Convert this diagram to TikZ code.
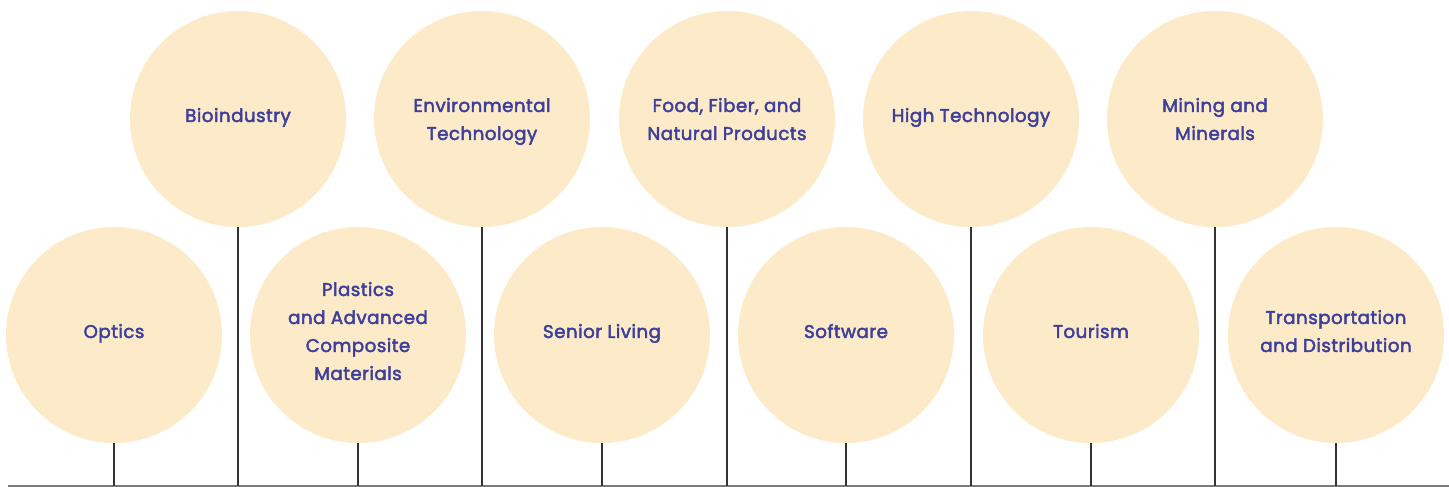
\documentclass[tikz,border=0pt]{standalone}
\usepackage{fontspec}
\setmainfont{Poppins}
\newfontfamily\bubblefont{Poppins}[FakeBold=2.4, LetterSpace=2.5]
\usepackage{tikz}

\definecolor{peach}{HTML}{FDEAC8}
\definecolor{indigo}{HTML}{3C3F9C}
\definecolor{stem}{HTML}{333333}
\definecolor{ground}{HTML}{7A7A7A}

\begin{document}
\begin{tikzpicture}[x=1pt,y=-1pt,
    bubble/.style={circle, fill=peach, minimum size=216pt, inner sep=0pt,
        align=center, text=indigo, text depth=8pt,
        font=\bubblefont\fontsize{18.3}{28}\selectfont},
    stemline/.style={stem, line width=1.2pt},
    groundline/.style={ground, line width=1.5pt}]
    \useasboundingbox (0,0) rectangle (1449,487);

    % ground line
    \coordinate (base) at (8,486);
    \coordinate (baseend) at (1449,486);
    \draw[groundline] (base) -- (baseend);

    % top row (two-line labels sit a bit lower)
    \node[bubble] (bio)   at (238,119)  {Bioindustry};
    \node[bubble, text depth=0pt] (env)  at (482,119) {Environmental\\Technology};
    \node[bubble, text depth=0pt] (food) at (727,119) {Food, Fiber, and\\Natural Products};
    \node[bubble] (high)  at (971,119)  {High Technology};
    \node[bubble, text depth=0pt] (mine) at (1215,119) {Mining and\\Minerals};

    % bottom row
    \node[bubble] (optics)  at (114,335)  {Optics};
    \node[bubble] (plastic) at (358,335)  {Plastics\\and Advanced\\Composite\\Materials};
    \node[bubble] (senior)  at (602,335)  {Senior Living};
    \node[bubble] (soft)    at (846,335)  {Software};
    \node[bubble] (tour)    at (1091,335) {Tourism};
    \node[bubble] (trans)   at (1336,335) {Transportation\\and Distribution};

    % stems down to the ground line
    \draw[stemline] (bio.south) -- (bio.south |- base);
    \draw[stemline] (env.south) -- (env.south |- base);
    \draw[stemline] (food.south) -- (food.south |- base);
    \draw[stemline] (high.south) -- (high.south |- base);
    \draw[stemline] (mine.south) -- (mine.south |- base);
    \draw[stemline] (optics.south) -- (optics.south |- base);
    \draw[stemline] (plastic.south) -- (plastic.south |- base);
    \draw[stemline] (senior.south) -- (senior.south |- base);
    \draw[stemline] (soft.south) -- (soft.south |- base);
    \draw[stemline] (tour.south) -- (tour.south |- base);
    \draw[stemline] (trans.south) -- (trans.south |- base);
\end{tikzpicture}
\end{document}
